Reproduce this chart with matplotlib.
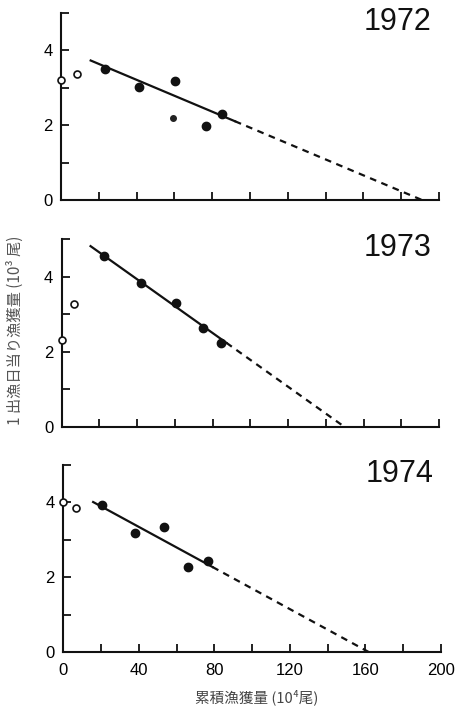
import matplotlib
matplotlib.use('Agg')
import matplotlib.pyplot as plt

# ---- data ----
years = ['1972', '1973', '1974']
open_x = [[0, 8.6], [0, 6.3], [0, 6.7]]
open_y = [[3.2, 3.38], [2.31, 3.28], [4.0, 3.85]]
filled_x = [[23.3, 41.4, 60.3, 76.5, 85.4],
            [22.2, 42.1, 60.6, 74.9, 84.3],
            [20.6, 37.8, 53.3, 66.1, 76.4]]
filled_y = [[3.49, 3.02, 3.19, 1.97, 2.29],
            [4.54, 3.82, 3.31, 2.64, 2.24],
            [3.92, 3.19, 3.35, 2.28, 2.44]]
small_x = [59.4]
small_y = [2.2]
# regression line: start point, end of solid part, x-intercept
line_start_x = [15.7, 15.3, 15.8]
line_start_y = [3.73, 4.81, 4.01]
solid_end_x = [92.0, 87.3, 79.0]
x_intercept = [191.0, 150.0, 161.7]

x_ticks = list(range(0, 201, 20))
x_ticklabels = ['0', '', '40', '', '80', '', '120', '', '160', '', '200']
y_ticks = [0, 1, 2, 3, 4, 5]
y_ticklabels = ['0', '', '2', '', '4', '']

xlabel = '累積漁獲量 (10⁴尾)'
ylabel = '1 出漁日当り漁獲量 (10³ 尾)'

W, H = 458, 707
fig = plt.figure(figsize=(W / 100, H / 100), dpi=100)

# axes boxes in pixels: left, right, top, bottom
boxes = [(61, 439, 13, 200), (61.7, 439, 239, 427), (63.3, 441, 465, 652)]

num_font = 'Liberation Sans'
cjk = ['Noto Sans CJK JP', 'DejaVu Sans']

for i, (l, r, t, b) in enumerate(boxes):
    ax = fig.add_axes([l / W, 1 - b / H, (r - l) / W, (b - t) / H])
    ax.set_xlim(0, 200)
    ax.set_ylim(0, 5)
    for s in ['top', 'right']:
        ax.spines[s].set_visible(False)
    for s in ['left', 'bottom']:
        ax.spines[s].set_linewidth(1.5)
        ax.spines[s].set_color('#111111')
    ax.set_xticks(x_ticks)
    ax.set_yticks(y_ticks)
    ax.set_yticklabels(y_ticklabels, fontfamily=num_font, fontsize=12)
    if i == 2:
        ax.set_xticklabels(x_ticklabels, fontfamily=num_font, fontsize=12)
    else:
        ax.set_xticklabels([])
    ax.tick_params(direction='in', length=6, width=1.3, color='#111111')
    ax.tick_params(axis='x', pad=8)
    ax.tick_params(axis='y', pad=6)

    x0, y0, xe, xi = line_start_x[i], line_start_y[i], solid_end_x[i], x_intercept[i]
    ye = y0 * (xi - xe) / (xi - x0)
    ax.plot([x0, xe], [y0, ye], color='#111111', lw=1.6, clip_on=False, zorder=3)
    ax.plot([xe, xi], [ye, 0], color='#111111', lw=1.6, ls=(0, (3, 2.5)), clip_on=False, zorder=3)

    ax.plot(filled_x[i], filled_y[i], 'o', ms=6, color='#111111', clip_on=False, zorder=4)
    ax.plot(open_x[i], open_y[i], 'o', ms=5, mfc='white', mec='#111111', mew=1.2,
            clip_on=False, zorder=5)
    if i == 0:
        ax.plot(small_x, small_y, 'o', ms=4, color='#222222', clip_on=False, zorder=4)

    ax.text(0.889, 0.95, years[i], transform=ax.transAxes, ha='center', va='center',
            fontsize=22, fontfamily=num_font, color='#111111')

fig.text(257 / W, 1 - 697 / H, xlabel, ha='center', va='center', fontsize=10.5,
         family=cjk, color='#444444')
fig.text(15 / W, 1 - 330 / H, ylabel, ha='center', va='center', rotation=90,
         fontsize=11, family=cjk, color='#555555')

fig.savefig('out.png', dpi=100, facecolor='white')
